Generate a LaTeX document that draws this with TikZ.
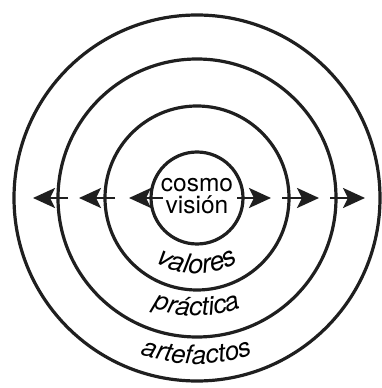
\documentclass[tikz,border=0pt]{standalone}
\usepackage{fontspec}
\setmainfont{TeX Gyre Heros}
\usetikzlibrary{arrows.meta,decorations.text,calc}
\tikzset{
  ring/.style={draw=black!88, line width=3.2pt},
  arr/.style={draw=black!88, line width=2.8pt, -{Stealth[length=22pt,width=20pt,inset=5pt]}},
  curvetext/.style={decorate, decoration={text along path, text align=center, text={#1}}}
}
\begin{document}
\begin{tikzpicture}[x=1pt,y=1pt]
\useasboundingbox (0,0) rectangle (382,388);
\coordinate (c) at (197,190);
\draw[ring] (c) circle[radius=46];
\draw[ring] (c) circle[radius=92];
\draw[ring] (c) circle[radius=139];
\draw[ring] (c) circle[radius=183];
\node[align=center, font=\fontsize{24.5}{22}\selectfont, inner sep=0pt] (cv) at ($(c)+(0,2)$) {cosmo\\visión};
% arrow endpoints
\coordinate (l1s) at ($(c)+(-34,0)$); \coordinate (l1e) at ($(c)+(-68,0)$);
\coordinate (l2s) at ($(c)+(-82,0)$); \coordinate (l2e) at ($(c)+(-118,0)$);
\coordinate (l3s) at ($(c)+(-129,0)$); \coordinate (l3e) at ($(c)+(-164,0)$);
\coordinate (r1s) at ($(c)+(40,0)$); \coordinate (r1e) at ($(c)+(74,0)$);
\coordinate (r2s) at ($(c)+(85,0)$); \coordinate (r2e) at ($(c)+(122,0)$);
\coordinate (r3s) at ($(c)+(133,0)$); \coordinate (r3e) at ($(c)+(168,0)$);
\draw[arr] (l1s) -- (l1e);
\draw[arr] (l2s) -- (l2e);
\draw[arr] (l3s) -- (l3e);
\draw[arr] (r1s) -- (r1e);
\draw[arr] (r2s) -- (r2e);
\draw[arr] (r3s) -- (r3e);
% curved labels
\path[curvetext={|\fontsize{27}{27}\selectfont\itshape|valores}] ($(c)+(200:76)$) arc[start angle=200, end angle=340, radius=76];
\path[curvetext={|\fontsize{26}{26}\selectfont\itshape|práctica}] ($(c)+(210:118)$) arc[start angle=210, end angle=330, radius=118];
\path[curvetext={|\fontsize{26}{26}\selectfont\itshape|artefactos}] ($(c)+(220:166)$) arc[start angle=220, end angle=320, radius=166];
\end{tikzpicture}
\end{document}
